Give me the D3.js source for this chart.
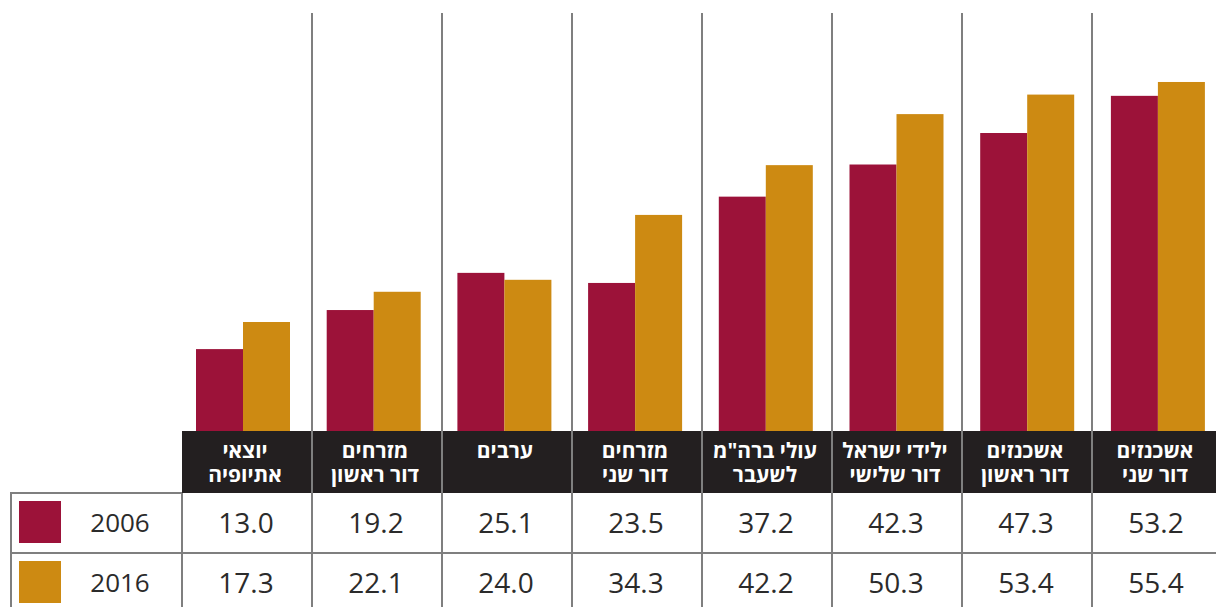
<!DOCTYPE html>
<html lang="he">
<head>
<meta charset="utf-8">
<script src="https://cdn.jsdelivr.net/npm/d3@7"></script>
<style>
  html, body { margin: 0; padding: 0; background: #fff; }
  svg { display: block; }
  text { font-family: "Open Sans", "DejaVu Sans", sans-serif; }
</style>
</head>
<body>
<svg id="chart" width="1216" height="607"></svg>
<script>
// Categories, shown left to right (the table reads right to left)
const categoryLine1 = ["יוצאי", "מזרחים", "ערבים", "מזרחים", "עולי ברה\"מ", "ילידי ישראל", "אשכנזים", "אשכנזים"];
const categoryLine2 = ["אתיופיה", "דור ראשון", "", "דור שני", "לשעבר", "דור שלישי", "דור ראשון", "דור שני"];
const years = ["2006", "2016"];
const values2006 = [13.0, 19.2, 25.1, 23.5, 37.2, 42.3, 47.3, 53.2];
const values2016 = [17.3, 22.1, 24.0, 34.3, 42.2, 50.3, 53.4, 55.4];

const colors = ["#9c1239", "#cd8a12"];
const svg = d3.select("#chart");
const ids = d3.range(categoryLine1.length);

// table columns
const x = d3.scaleBand().domain(ids).range([182, 1222]).paddingInner(0).paddingOuter(0);
// bar groups (slightly wider step than the table columns)
const xb = d3.scaleBand().domain(ids).range([196, 196 + 8 * 130.7]).paddingInner(0);
const y = d3.scaleLinear().domain([0, 66.35]).range([431, 13]);
const sub = d3.scaleBand().domain(years).range([0, 94]);

const series = [values2006, values2016];

// bars
years.forEach((yr, si) => {
  svg.append("g").selectAll("rect").data(ids).join("rect")
    .attr("x", i => xb(i) + sub(yr))
    .attr("width", sub.bandwidth())
    .attr("y", i => y(series[si][i]))
    .attr("height", i => y(0) - y(series[si][i]))
    .attr("fill", colors[si]);
});

// header band
svg.append("rect").attr("x", 182).attr("y", 431).attr("width", 1216 - 182).attr("height", 62).attr("fill", "#231f20");

const lineColor = "#7f7f7f";
// vertical column separators
svg.append("g").selectAll("line").data(ids.slice(1)).join("line")
  .attr("x1", i => x(i)).attr("x2", i => x(i))
  .attr("y1", 13).attr("y2", 607)
  .attr("stroke", lineColor).attr("stroke-width", 2);
// first column left edge and table left border
[[182, 493], [11, 493]].forEach(([lx, ly]) => {
  svg.append("line").attr("x1", lx).attr("x2", lx).attr("y1", ly).attr("y2", 607)
    .attr("stroke", lineColor).attr("stroke-width", 2);
});
// horizontal table lines
svg.append("line").attr("x1", 10).attr("x2", 182).attr("y1", 493).attr("y2", 493).attr("stroke", lineColor).attr("stroke-width", 2);
svg.append("line").attr("x1", 10).attr("x2", 1216).attr("y1", 553).attr("y2", 553).attr("stroke", lineColor).attr("stroke-width", 2);

// header labels
const hdr = svg.append("g").attr("fill", "#fff").attr("font-weight", "bold").attr("font-size", 21)
  .attr("text-anchor", "middle").attr("direction", "rtl");
hdr.selectAll("text.l1").data(ids).join("text").attr("class", "l1")
  .attr("x", i => x(i) + x.bandwidth() / 2 - 2).attr("y", 458).text(i => categoryLine1[i]);
hdr.selectAll("text.l2").data(ids).join("text").attr("class", "l2")
  .attr("x", i => x(i) + x.bandwidth() / 2 - 2).attr("y", 482).text(i => categoryLine2[i]);

// table rows
const rowTop = [493, 553];
years.forEach((yr, si) => {
  const g = svg.append("g");
  g.append("rect").attr("x", 19).attr("y", rowTop[si] + 8).attr("width", 42).attr("height", 42).attr("fill", colors[si]);
  g.append("text").attr("x", 120).attr("y", rowTop[si] + 39).attr("text-anchor", "middle")
    .attr("font-size", 26).attr("fill", "#2b2b2b").text(yr);
  g.selectAll("text.v").data(ids).join("text").attr("class", "v")
    .attr("x", i => x(i) + x.bandwidth() / 2 - 1).attr("y", rowTop[si] + 40)
    .attr("text-anchor", "middle").attr("font-size", 28).attr("fill", "#2b2b2b")
    .text(i => series[si][i].toFixed(1));
});
</script>
</body>
</html>
